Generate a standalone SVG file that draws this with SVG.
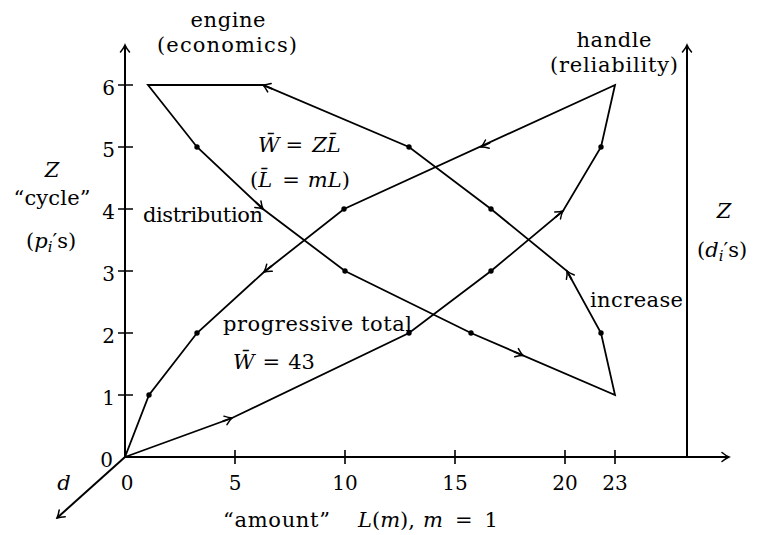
<svg xmlns="http://www.w3.org/2000/svg" width="766" height="535" viewBox="0 0 766 535">
<defs>
<marker id="a" viewBox="-9 -6 11 12" refX="0" refY="0" markerWidth="11" markerHeight="12" markerUnits="userSpaceOnUse" orient="auto">
<path d="M-7,-4.5 Q-3,-1.2 0,0 Q-3,1.2 -7,4.5" fill="none" stroke="#000" stroke-width="1.5" stroke-linecap="round"/>
</marker>
</defs>
<style>
.ax{stroke:#000;stroke-width:2;fill:none}
.tk{stroke:#000;stroke-width:1.6;fill:none}
.c{stroke:#000;stroke-width:1.8;fill:none;stroke-linejoin:miter}
.ar{stroke:#000;stroke-width:1.8;fill:none;marker-end:url(#a)}
.dot{fill:#000}
text{font-family:"DejaVu Serif","Liberation Serif",serif;font-size:21px;fill:#000}
.n{font-size:20px}
.it{font-style:italic}
</style>
<rect width="766" height="535" fill="#fff"/>
<g id="axes">
<path class="ax" d="M125,457 L125,45" marker-end="url(#a)"/>
<path class="ax" d="M125,457 L729,457" marker-end="url(#a)"/>
<path class="ax" d="M687,457 L687,45" marker-end="url(#a)"/>
<path class="ax" d="M125,457 L57,518" marker-end="url(#a)"/>
<path class="tk" d="M118,85H133M118,147H133M118,209H133M118,271H133M118,333H133M118,395H133M235,450V464M345,450V464M455,450V464M565,450V464M615,450V464"/>
</g>
<g id="ticklabels">
<text class="n" x="115" y="95" text-anchor="end">6</text>
<text class="n" x="115" y="157" text-anchor="end">5</text>
<text class="n" x="115" y="219" text-anchor="end">4</text>
<text class="n" x="115" y="281" text-anchor="end">3</text>
<text class="n" x="115" y="343" text-anchor="end">2</text>
<text class="n" x="115" y="405" text-anchor="end">1</text>
<text class="n" x="113" y="467" text-anchor="end">0</text>
<text class="n" x="127" y="490" text-anchor="middle">0</text>
<text class="n" x="235" y="490" text-anchor="middle">5</text>
<text class="n" x="345" y="490" text-anchor="middle">10</text>
<text class="n" x="455" y="490" text-anchor="middle">15</text>
<text class="n" x="565" y="490" text-anchor="middle">20</text>
<text class="n" x="615" y="490" text-anchor="middle">23</text>
</g>
<g id="connectors">
<g id="engine-loop">
<path class="c" d="M148,85 L197,147 L263,209 L345,271 L471,333 L615,395 L601,333 L567,271 L491,209 L409,147 L263,85 Z"/>
<path class="ar" d="M255.7,202.2 L263,209"/>
<path class="ar" d="M513.8,351.5 L523,355.5"/>
<path class="ar" d="M571.8,279.8 L567,271"/>
<path class="ar" d="M272.2,88.9 L263,85"/>
<circle class="dot" cx="197" cy="147" r="2.7"/>
<circle class="dot" cx="345" cy="271" r="2.7"/>
<circle class="dot" cx="471" cy="333" r="2.7"/>
<circle class="dot" cx="601" cy="333" r="2.7"/>
<circle class="dot" cx="491" cy="209" r="2.7"/>
<circle class="dot" cx="409" cy="147" r="2.7"/>
</g>
<g id="handle-loop">
<path class="c" d="M125,457 L232,418 L409,333 L491,271 L563,211 L601,147 L615,85 L344,209 L264,272 L197,333 L149,395 Z"/>
<path class="ar" d="M222.6,421.4 L232,418"/>
<path class="ar" d="M555.3,217.4 L563,211"/>
<path class="ar" d="M490.1,142.8 L481,147"/>
<path class="ar" d="M271.9,265.8 L264,272"/>
<circle class="dot" cx="409" cy="333" r="2.7"/>
<circle class="dot" cx="491" cy="271" r="2.7"/>
<circle class="dot" cx="601" cy="147" r="2.7"/>
<circle class="dot" cx="344" cy="209" r="2.7"/>
<circle class="dot" cx="197" cy="333" r="2.7"/>
<circle class="dot" cx="149" cy="395" r="2.7"/>
</g>
</g>
<g id="labels">
<text x="228" y="27" text-anchor="middle" textLength="75">engine</text>
<text x="227" y="52" text-anchor="middle" textLength="140">(economics)</text>
<text x="614" y="47" text-anchor="middle" textLength="75">handle</text>
<text x="614" y="72" text-anchor="middle" textLength="128">(reliability)</text>
<text class="it" x="52" y="177" text-anchor="middle" font-size="23">Z</text>
<text x="52" y="205" text-anchor="middle" textLength="77">“cycle”</text>
<text x="55" y="248">
<tspan x="26">(</tspan><tspan class="it">p</tspan><tspan class="it" font-size="15" dy="4">i</tspan><tspan dy="-4">′s)</tspan></text>
<text x="143" y="222" textLength="120">distribution</text>
<text x="258" y="152"><tspan class="it">W̄</tspan><tspan dx="6">=</tspan><tspan class="it" dx="9">Z</tspan><tspan class="it">L̄</tspan></text>
<text x="250" y="187">(<tspan class="it">L̄</tspan><tspan dx="10">=</tspan><tspan class="it" dx="8">mL</tspan>)</text>
<text x="223" y="331" textLength="189">progressive total</text>
<text x="233" y="369"><tspan class="it">W̄</tspan><tspan dx="8">=</tspan><tspan dx="8">43</tspan></text>
<text x="590" y="307" textLength="93">increase</text>
<text class="it" x="724" y="218" text-anchor="middle" font-size="23">Z</text>
<text x="697" y="257">(<tspan class="it">d</tspan><tspan class="it" font-size="15" dy="4">i</tspan><tspan dy="-4">′s)</tspan></text>
<text class="it" x="64" y="490" text-anchor="middle" font-size="23">d</text>
<text x="223" y="527" textLength="107">“amount”</text>
<text x="358" y="527"><tspan class="it">L</tspan>(<tspan class="it">m</tspan>),<tspan class="it" dx="8">m</tspan><tspan dx="12">=</tspan><tspan dx="12">1</tspan></text>
</g>
</svg>
